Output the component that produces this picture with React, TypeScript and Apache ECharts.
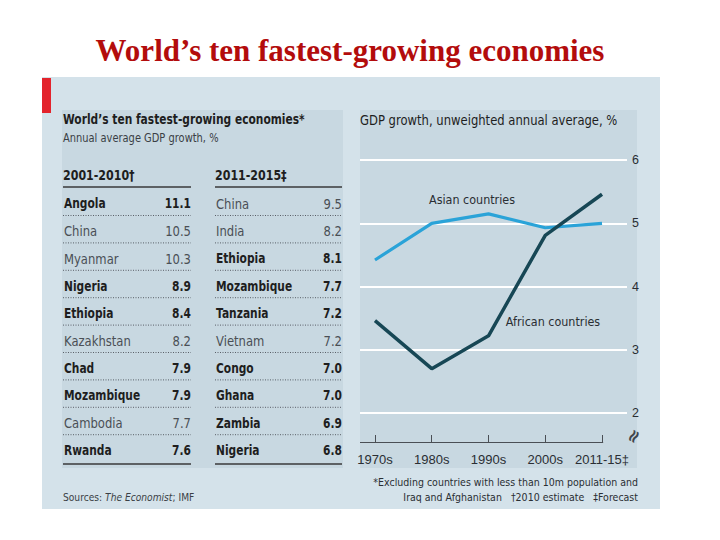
import React, { useEffect, useRef } from "react";
import * as echarts from "echarts";

// ---- data ----
const decades = ["1970s", "1980s", "1990s", "2000s", "2011-15‡"];
const asianGrowth = [4.42, 5.0, 5.15, 4.93, 5.0];
const africanGrowth = [3.46, 2.7, 3.22, 4.81, 5.46];
const yTickValues = [2, 3, 4, 5, 6];

const period1Label = "2001-2010†";
const period1Countries = ["Angola", "China", "Myanmar", "Nigeria", "Ethiopia", "Kazakhstan", "Chad", "Mozambique", "Cambodia", "Rwanda"];
const period1Growth = [11.1, 10.5, 10.3, 8.9, 8.4, 8.2, 7.9, 7.9, 7.7, 7.6];
const period1Bold = [true, false, false, true, true, false, true, true, false, true];

const period2Label = "2011-2015‡";
const period2Countries = ["China", "India", "Ethiopia", "Mozambique", "Tanzania", "Vietnam", "Congo", "Ghana", "Zambia", "Nigeria"];
const period2Growth = [9.5, 8.2, 8.1, 7.7, 7.2, 7.2, 7.0, 7.0, 6.9, 6.8];
const period2Bold = [false, false, true, true, true, false, true, true, true, true];

const FONT = '"DejaVu Sans", sans-serif';
const BOLD_SCALE = 0.79;
const REG_SCALE = 0.86;

const Y_MIN = 1.54;
const Y_MAX = 6.16;
const X_MIN = -0.264;
const X_MAX = 4.44;

function txt(
  x: number,
  y: number,
  text: string,
  size: number,
  bold: boolean,
  fill: string,
  align: "left" | "right" | "center" = "left",
  extra: any = {}
) {
  return {
    type: "text",
    x,
    y,
    scaleX: bold ? BOLD_SCALE : REG_SCALE,
    style: {
      text,
      font: `${bold ? "bold " : ""}${size}px ${FONT}`,
      fill,
      align,
      verticalAlign: "middle",
      ...extra,
    },
  };
}

function tableColumn(
  label: string,
  names: string[],
  values: number[],
  bold: boolean[],
  xLeft: number,
  xRight: number
) {
  const els: any[] = [];
  els.push(txt(xLeft, 175, label, 14, true, "#1e1e1e"));
  els.push({
    type: "line",
    shape: { x1: xLeft, y1: 187, x2: xRight, y2: 187 },
    style: { stroke: "#3a3a3a", lineWidth: 1.5 },
  });
  const y0 = 204;
  const step = 27.4;
  names.forEach((n, i) => {
    const y = y0 + i * step;
    const b = bold[i];
    const fill = b ? "#1e1e1e" : "#4a4f55";
    els.push(txt(xLeft + 1, y, n, 13.5, b, fill));
    els.push(txt(xRight, y, values[i].toFixed(1), 13.5, b, fill, "right"));
    if (i < names.length - 1) {
      els.push({
        type: "line",
        shape: { x1: xLeft, y1: y + 11.5, x2: xRight, y2: y + 11.5 },
        style: { stroke: "#5a6068", lineWidth: 1, lineDash: [1, 1.5] },
      });
    } else {
      els.push({
        type: "line",
        shape: { x1: xLeft, y1: y + 13.5, x2: xRight, y2: y + 13.5 },
        style: { stroke: "#3a3a3a", lineWidth: 1.5 },
      });
    }
  });
  return els;
}

export default function App() {
  const ref = useRef<HTMLDivElement>(null);
  useEffect(() => {
    if (!ref.current) return;
    const chart = echarts.init(ref.current, undefined, { renderer: "svg" });

    const graphics: any[] = [
      { type: "rect", z: -10, shape: { x: 42, y: 77, width: 618, height: 432 }, style: { fill: "#d4e2ea" } },
      { type: "rect", z: -9, shape: { x: 42, y: 78, width: 9, height: 35 }, style: { fill: "#e3232c" } },
      { type: "rect", z: -9, shape: { x: 62, y: 110, width: 281, height: 358 }, style: { fill: "#c8d8e1" } },
      { type: "rect", z: -9, shape: { x: 360, y: 110, width: 277, height: 358 }, style: { fill: "#c8d8e1" } },
      {
        type: "text",
        x: 350,
        y: 50,
        style: {
          text: "World’s ten fastest-growing economies",
          font: 'bold 31px "Liberation Serif", "Times New Roman", serif',
          fill: "#b30c0c",
          align: "center",
          verticalAlign: "middle",
        },
      },
      txt(63, 120, "World’s ten fastest-growing economies*", 13.5, true, "#1e1e1e"),
      txt(63, 138, "Annual average GDP growth, %", 11.5, false, "#3a3f45"),
      ...tableColumn(period1Label, period1Countries, period1Growth, period1Bold, 63, 191),
      ...tableColumn(period2Label, period2Countries, period2Growth, period2Bold, 215, 342),
      {
        type: "text",
        x: 63,
        y: 497,
        scaleX: 0.83,
        style: {
          text: "{r|Sources: }{i|The Economist}{r|; IMF}",
          verticalAlign: "middle",
          rich: {
            r: { font: `11px ${FONT}`, fill: "#3a3f45" },
            i: { font: `italic 11px ${FONT}`, fill: "#3a3f45" },
          },
        },
      },
      txt(360, 120, "GDP growth, unweighted annual average, %", 13.5, false, "#1e1e1e"),
      txt(472, 200, "Asian countries", 13, false, "#2a2e33", "center", {}),
      txt(553, 322, "African countries", 13, false, "#2a2e33", "center", {}),
      {
        type: "text",
        x: 633,
        y: 436,
        rotation: 1.05,
        style: { text: "≈", font: `bold 18px ${FONT}`, fill: "#3f454c", align: "center", verticalAlign: "middle" },
      },
      txt(638, 482, "*Excluding countries with less than 10m population and", 11, false, "#2a2e33", "right"),
      txt(638, 497, "Iraq and Afghanistan   †2010 estimate   ‡Forecast", 11, false, "#2a2e33", "right"),
    ];

    chart.setOption({
      animation: false,
      backgroundColor: "#ffffff",
      grid: { left: 360, top: 150, width: 267, height: 292, containLabel: false },
      xAxis: {
        type: "value",
        min: X_MIN,
        max: X_MAX,
        axisLine: { show: false },
        splitLine: { show: false },
        axisTick: {
          show: true,
          inside: true,
          length: 7,
          customValues: decades.map((_, i) => i),
          lineStyle: { color: "#4a4f55", width: 1 },
        },
        axisLabel: {
          customValues: decades.map((_, i) => i),
          formatter: (v: number) => decades[Math.round(v)] ?? "",
          fontFamily: '"Liberation Sans", sans-serif',
          fontSize: 13,
          color: "#2a2e33",
          margin: 11,
        },
      },
      yAxis: {
        type: "value",
        position: "right",
        min: Y_MIN,
        max: Y_MAX,
        axisLine: { show: false },
        axisTick: { show: false, customValues: yTickValues },
        axisLabel: {
          customValues: yTickValues,
          fontFamily: '"Liberation Sans", sans-serif',
          fontSize: 12.5,
          color: "#2a2e33",
          margin: 5,
        },
        splitLine: { show: true, lineStyle: { color: "#ffffff", width: 2 } },
      },
      graphic: graphics,
      series: [
        {
          name: "Asian countries",
          type: "line",
          data: decades.map((_, i) => [i, asianGrowth[i]]),
          symbol: "none",
          lineStyle: { color: "#2aa3d8", width: 3.2 },
          z: 3,
        },
        {
          name: "African countries",
          type: "line",
          data: decades.map((_, i) => [i, africanGrowth[i]]),
          symbol: "none",
          lineStyle: { color: "#174755", width: 3.5 },
          z: 4,
          markLine: {
            silent: true,
            symbol: "none",
            label: { show: false },
            lineStyle: { color: "#4a4f55", width: 1, type: "solid" },
            data: [[{ coord: [X_MIN, Y_MIN] }, { coord: [decades.length - 1 + 0.02, Y_MIN] }]],
          },
        },
      ],
    });
    return () => chart.dispose();
  }, []);
  return <div ref={ref} style={{ position: "fixed", left: 0, top: 0, width: 720, height: 540 }} />;
}
